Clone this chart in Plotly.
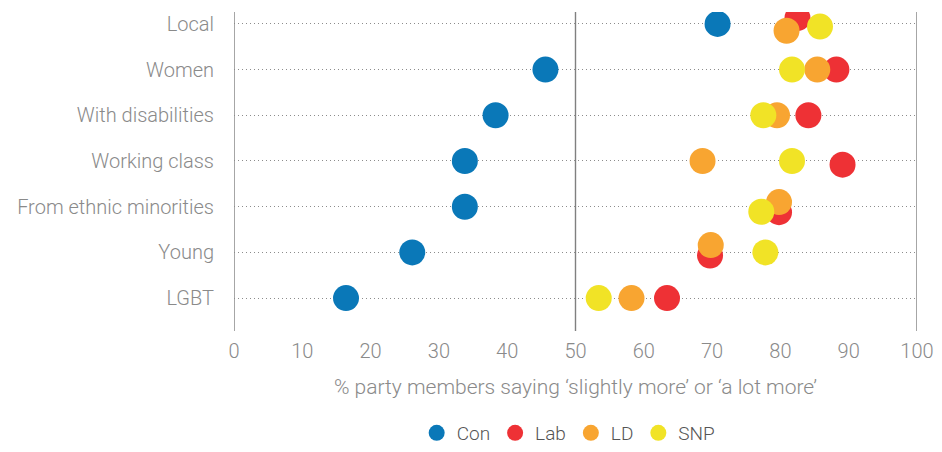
import plotly.graph_objects as go

categories = ["Local", "Women", "With disabilities", "Working class",
              "From ethnic minorities", "Young", "LGBT"]
parties = ["Con", "Lab", "LD", "SNP"]
con = [70.8, 45.6, 38.3, 33.8, 33.8, 26.1, 16.4]
lab = [82.5, 88.2, 84.1, 89.1, 79.8, 69.7, 63.4]
ld = [80.9, 85.4, 79.5, 68.6, 79.8, 69.8, 58.2]
snp = [85.8, 81.7, 77.5, 81.7, 77.2, 77.8, 53.4]
# small vertical jitter (category units) used in the original to reduce overlap
jit_con = [0, 0, 0, 0, 0, 0, 0]
jit_lab = [0.13, 0, 0, -0.08, -0.12, -0.07, 0]
jit_ld = [-0.15, 0, 0, 0, 0.10, 0.16, 0]
jit_snp = [-0.06, 0, 0, 0, -0.11, 0, 0]
x_ticks = [0, 10, 20, 30, 40, 50, 60, 70, 80, 90, 100]

colors = {"Con": "#0a78b8", "Lab": "#ee3135", "LD": "#f8a531", "SNP": "#f1e326"}
series = {"Con": (con, jit_con), "Lab": (lab, jit_lab), "LD": (ld, jit_ld), "SNP": (snp, jit_snp)}

n = len(categories)
ypos = [n - 1 - i for i in range(n)]

FONT = "Roboto, sans-serif"
GREY = "#8a8a8a"

fig = go.Figure()
for p in parties:
    vals, jit = series[p]
    fig.add_trace(go.Scatter(
        x=vals, y=[ypos[i] + jit[i] for i in range(n)],
        mode="markers", name=p,
        marker=dict(size=26, color=colors[p], line=dict(width=0)),
    ))

for xv in [0, 50, 100]:
    fig.add_shape(type="line", x0=xv, x1=xv, y0=0, y1=1, xref="x", yref="paper",
                  line=dict(color="#808080", width=1.4), layer="below")

# page has an 8px body margin, so the figure is sized to fit inside the window
fig.update_layout(
    width=934, height=444,
    margin=dict(l=226, r=25, t=4, b=121, autoexpand=False),
    plot_bgcolor="white", paper_bgcolor="white",
    font=dict(family=FONT, color=GREY, size=20, weight=300),
    showlegend=True,
    legend=dict(orientation="h", x=0.49, xanchor="center", xref="paper",
                y=0.0, yanchor="bottom", yref="container",
                font=dict(size=19, color="#555555", weight=300),
                tracegroupgap=0),
    xaxis=dict(range=[0, 100], tickvals=x_ticks, ticktext=[str(t) for t in x_ticks],
               showgrid=False, zeroline=False, showline=False, automargin=False,
               ticks="outside", ticklen=2, tickcolor="rgba(0,0,0,0)",
               tickfont=dict(size=20, color=GREY, weight=300),
               title=dict(text="% party members saying \u2018slightly more\u2019 or \u2018a lot more\u2019",
                          font=dict(size=21, color=GREY, weight=300), standoff=17)),
    yaxis=dict(range=[-0.72, 6.26], tickvals=ypos, ticktext=categories,
               showgrid=True, gridcolor="#8c8c8c", griddash="1px,3px", gridwidth=1.2,
               zeroline=False, showline=False, automargin=False,
               ticks="outside", ticklen=15, tickcolor="rgba(0,0,0,0)",
               tickfont=dict(size=20, color=GREY, weight=300)),
)

fig.write_html("out.html")
